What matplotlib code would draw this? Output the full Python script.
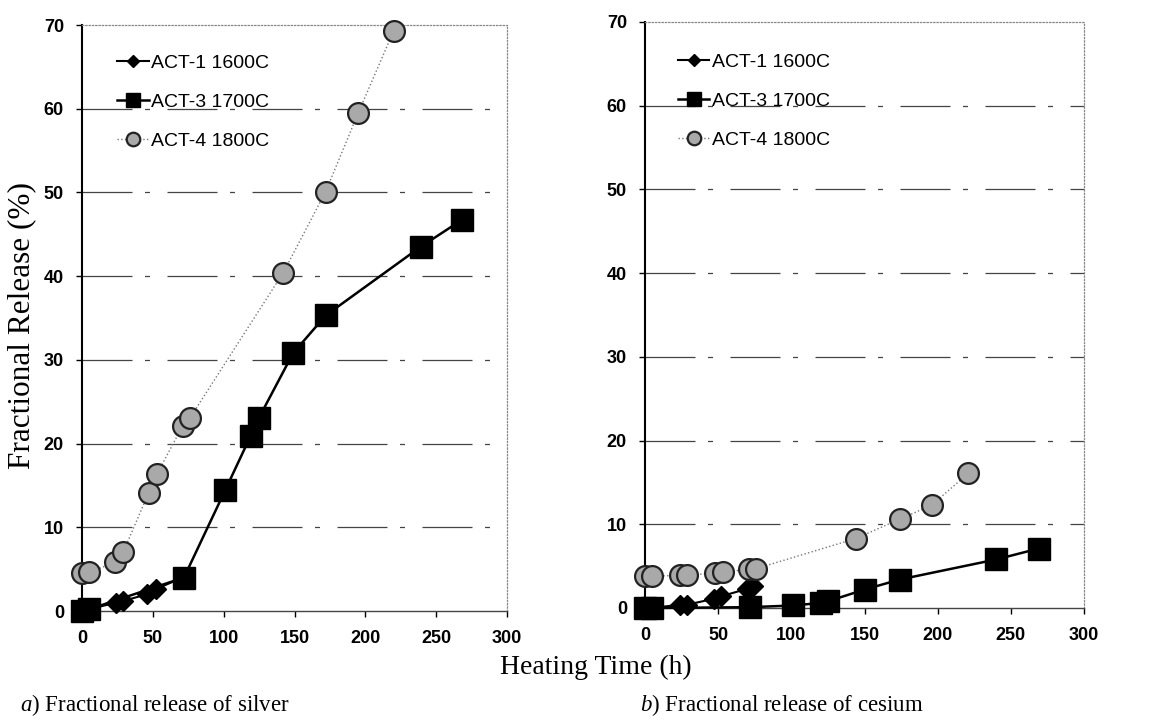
import matplotlib
matplotlib.use("Agg")
import matplotlib.pyplot as plt

# ---- data ----
series_labels = ["ACT-1 1600C", "ACT-3 1700C", "ACT-4 1800C"]

ag_act1_t = [0, 24, 29, 46, 52, 71]
ag_act1_v = [0, 1.0, 1.2, 2.0, 2.6, 4.0]
ag_act3_t = [0, 5, 72, 101, 119, 125, 149, 172, 239, 268]
ag_act3_v = [0, 0.2, 4.0, 14.4, 20.9, 23.1, 30.8, 35.3, 43.5, 46.7]
ag_act4_t = [0, 5, 23, 29, 47, 53, 71, 76, 142, 172, 195, 220]
ag_act4_v = [4.5, 4.6, 5.8, 7.0, 14.1, 16.4, 22.1, 23.0, 40.4, 50.1, 59.5, 69.3]

cs_act1_t = [0, 5, 24, 29, 47, 52, 70, 74]
cs_act1_v = [0, 0, 0.4, 0.4, 1.1, 1.4, 2.3, 2.6]
cs_act3_t = [0, 5, 72, 101, 120, 125, 150, 174, 240, 269]
cs_act3_v = [0, 0, 0.1, 0.3, 0.6, 0.8, 2.2, 3.4, 5.8, 7.1]
cs_act4_t = [0, 5, 24, 29, 48, 53, 71, 76, 144, 174, 196, 221]
cs_act4_v = [3.8, 3.8, 3.9, 3.9, 4.2, 4.3, 4.6, 4.7, 8.3, 10.6, 12.3, 16.1]

x_ticks = [0, 50, 100, 150, 200, 250, 300]
y_ticks = [0, 10, 20, 30, 40, 50, 60, 70]
x_label = "Heating Time (h)"
y_label = "Fractional Release (%)"
captions = [("a", ") Fractional release of silver"), ("b", ") Fractional release of cesium")]

plt.rcParams['font.family'] = ['Liberation Sans', 'DejaVu Sans']
plt.rcParams['mathtext.fontset'] = 'custom'
plt.rcParams['mathtext.it'] = 'Liberation Serif:italic'
plt.rcParams['mathtext.rm'] = 'Liberation Serif'

fig = plt.figure(figsize=(11.62, 7.2), dpi=100)
W, H = 1162, 720
ax1 = fig.add_axes([82 / W, 1 - 611 / H, 425 / W, 586 / H])
ax2 = fig.add_axes([645 / W, 1 - 608 / H, 439 / W, 586 / H])

def style(ax):
    ax.set_xlim(0, 300)
    ax.set_ylim(0, 70)
    ax.set_xticks(x_ticks)
    ax.set_yticks(y_ticks)
    ax.tick_params(axis='both', labelsize=13, length=4, width=1, direction='out')
    ax.tick_params(axis='x', pad=10)
    ax.tick_params(axis='y', pad=9)
    for lab in ax.get_xticklabels() + ax.get_yticklabels():
        lab.set_fontweight('bold')
    for y in y_ticks[1:-1]:
        ax.axhline(y, color='#444444', lw=0.9, ls=(0, (40, 10, 4, 14)), zorder=0)
    ax.spines['left'].set_color('black')
    ax.spines['left'].set_linewidth(1.5)
    ax.spines['bottom'].set_color('#444444')
    ax.spines['bottom'].set_linewidth(1.0)
    for s in ('top', 'right'):
        ax.spines[s].set_color('#888888')
        ax.spines[s].set_linewidth(0.9)
        ax.spines[s].set_linestyle(':')

def draw(ax, t1, v1, t3, v3, t4, v4, anchor_x, anchor_y):
    ax.plot(t1, v1, color='black', lw=1.5, marker='D', ms=10,
            mfc='black', mec='black', label=series_labels[0], zorder=3)
    ax.plot(t3, v3, color='black', lw=1.8, marker='s', ms=16,
            mfc='black', mec='black', label=series_labels[1], zorder=4)
    ax.plot(t4, v4, color='#777777', lw=1.0, ls=':', marker='o', ms=15,
            mfc='#a9a9a9', mec='#222222', mew=1.6, label=series_labels[2], zorder=5)
    ax.legend(loc='upper left', bbox_to_anchor=(anchor_x, anchor_y), frameon=False,
              fontsize=14, handlelength=1.6, handletextpad=0.15,
              labelspacing=1.1, markerscale=0.65, borderaxespad=0)

style(ax1)
style(ax2)
draw(ax1, ag_act1_t, ag_act1_v, ag_act3_t, ag_act3_v, ag_act4_t, ag_act4_v, 0.065, 0.963)
draw(ax2, cs_act1_t, cs_act1_v, cs_act3_t, cs_act3_v, cs_act4_t, cs_act4_v, 0.058, 0.960)
for ax in (ax1, ax2):
    for l in ax.get_lines():
        l.set_clip_on(False)

fig.text(22 / W, 1 - 326 / H, y_label, rotation=90, ha='center', va='center',
         family='Liberation Serif', fontsize=22.5)
fig.text(596 / W, 1 - 667 / H, x_label, ha='center', va='center',
         family='Liberation Serif', fontsize=20)
for (letter, rest), xpx in zip(captions, (20, 640)):
    fig.text(xpx / W, 1 - 705 / H, r"$\it{" + letter + "}$" + rest, ha='left', va='center',
             family='Liberation Serif', fontsize=16.5)

fig.savefig("out.png", dpi=100)
